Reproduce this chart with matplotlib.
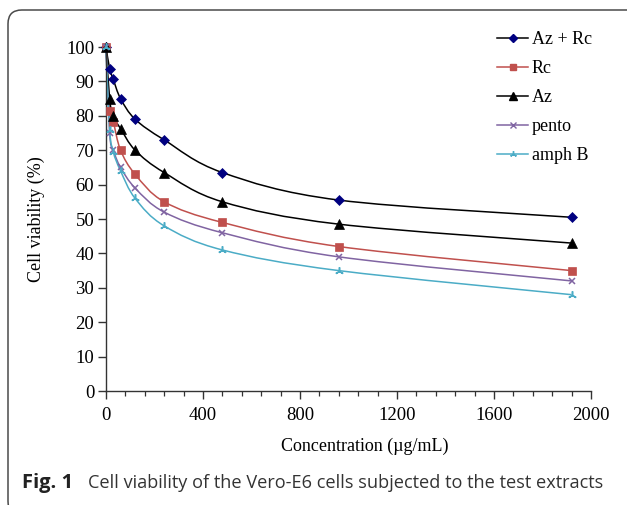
"""Recreate Fig. 1: cell viability of Vero-E6 cells vs extract concentration."""

import matplotlib

matplotlib.use("Agg")

import matplotlib.pyplot as plt
import numpy as np
from matplotlib.lines import Line2D
from matplotlib.patches import FancyBboxPatch, PathPatch
from matplotlib.path import Path
from matplotlib.ticker import MultipleLocator

concentration = [0, 15, 30, 60, 120, 240, 480, 960, 1920]

az_rc = [100, 93.7, 90.6, 85, 79, 73, 63.5, 55.5, 50.5]
rc = [100, 81.3, 78.3, 70, 63, 55, 49, 42, 35]
az = [100, 85, 79.8, 76.3, 70, 63.5, 55, 48.5, 43]
pento = [100, 75, 70, 65, 59, 52, 46, 39, 32]
amph_b = [100, 76, 69.5, 64, 56, 48, 41, 35, 28]

series = [
    ("Az + Rc", az_rc, "black", "#000080", "D", 5.5),
    ("Rc", rc, "#C0504D", "#C0504D", "s", 5.5),
    ("Az", az, "black", "black", "^", 7),
    ("pento", pento, "#8064A2", "#8064A2", "x", 5),
    ("amph B", amph_b, "#4BACC6", "#4BACC6", (3, 2, 0), 6),
]

SERIF = ["Liberation Serif", "DejaVu Serif"]


def smooth_path(xs, ys, tension=1 / 6):
    """Bezier path through the points, like a spreadsheet 'smoothed line'."""
    pts = np.column_stack([xs, ys]).astype(float)
    padded = np.vstack([pts[0], pts, pts[-1]])
    verts = [pts[0]]
    codes = [Path.MOVETO]
    for i in range(1, len(padded) - 2):
        p0, p1, p2, p3 = padded[i - 1], padded[i], padded[i + 1], padded[i + 2]
        verts += [p1 + (p2 - p0) * tension, p2 - (p3 - p1) * tension, p2]
        codes += [Path.CURVE4] * 3
    return Path(verts, codes)


fig = plt.figure(figsize=(6.27, 5.05), dpi=100)
W, H = 627, 505

frame = FancyBboxPatch(
    (8 / W, -10 / H), 660 / W, (505 - 8 + 10 - 2) / H,
    boxstyle="round,pad=0,rounding_size=0.022",
    transform=fig.transFigure, facecolor="none", edgecolor="#4a4a4a",
    linewidth=1.1, mutation_aspect=W / H, zorder=0,
)
fig.patches.append(frame)

ax = fig.add_axes([106 / W, 1 - 391 / H, (591 - 106) / W, (391 - 47) / H])
ax.set_facecolor("none")

handles = []
for label, values, line_col, mark_col, marker, size in series:
    ax.add_patch(PathPatch(smooth_path(concentration, values), facecolor="none",
                           edgecolor=line_col, linewidth=1.1, clip_on=False))
    ax.plot(concentration, values, linestyle="none", marker=marker, markersize=size,
            color=mark_col, markeredgewidth=1.1 if marker in ("x", (3, 2, 0)) else 0.5,
            clip_on=False, zorder=3)
    handles.append(Line2D([], [], color=line_col, linewidth=1.1, marker=marker,
                          markersize=size * 0.8, markerfacecolor=mark_col,
                          markeredgecolor=mark_col, label=label))

ax.set_xlim(0, 2000)
ax.set_ylim(0, 100)
ax.xaxis.set_major_locator(MultipleLocator(400))
ax.xaxis.set_minor_locator(MultipleLocator(80))
ax.yaxis.set_major_locator(MultipleLocator(10))
for side in ("top", "right"):
    ax.spines[side].set_visible(False)
for side in ("left", "bottom"):
    ax.spines[side].set_color("#333333")
    ax.spines[side].set_linewidth(1.0)
ax.tick_params(which="major", direction="out", length=5.5, width=1.0, color="#333333",
               labelsize=13.5, pad=3)
ax.tick_params(which="minor", direction="out", length=3.5, width=0.9, color="#333333")
ax.tick_params(axis="x", pad=6)
for lab in ax.get_xticklabels() + ax.get_yticklabels():
    lab.set_family(SERIF)

ax.set_xlabel("Concentration (µg/mL)", family=SERIF, fontsize=13, labelpad=10)
ax.xaxis.set_label_coords(0.533, -0.135)
ax.set_ylabel("Cell viability (%)", family=SERIF, fontsize=13, labelpad=8)
ax.yaxis.set_label_coords(-0.125, 0.5)

ax.legend(handles=handles, loc="upper left", bbox_to_anchor=(384 / 485, 1.067),
          frameon=False, prop={"family": SERIF, "size": 13}, handlelength=1.7,
          handletextpad=0.2, labelspacing=0.66, borderaxespad=0)

fig.text(22 / W, 1 - 483 / H, "Fig. 1", fontsize=14.5, fontweight="bold",
         family=["Open Sans", "DejaVu Sans"], va="center", color="#222222")
fig.text(88 / W, 1 - 483 / H, "Cell viability of the Vero-E6 cells subjected to the test extracts",
         fontsize=13.1, family=["Open Sans", "DejaVu Sans"], va="center", color="#333333")

fig.savefig("out.png", dpi=100)
